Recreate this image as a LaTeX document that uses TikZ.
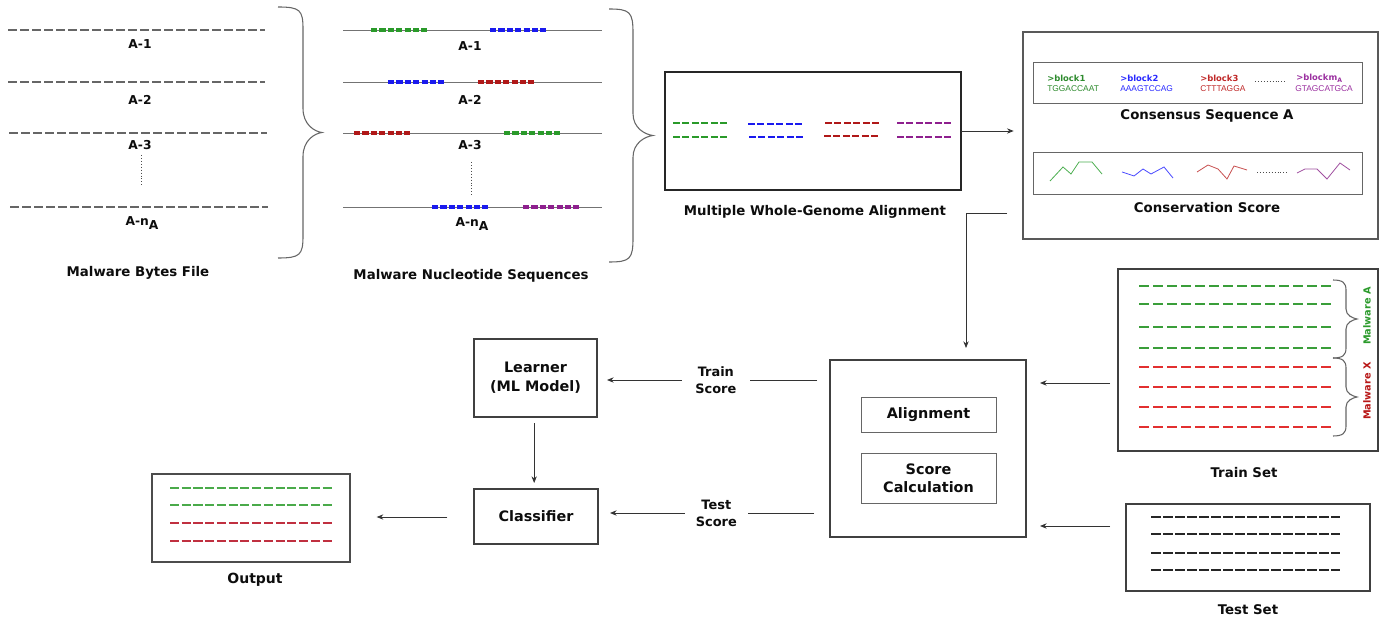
\documentclass[tikz,border=0pt]{standalone}
\usepackage{fontspec}
\setmainfont{DejaVu Sans}
\newfontfamily\seqfont{Liberation Sans}
\usetikzlibrary{arrows.meta}
\definecolor{cgrn}{HTML}{2A9A2A}
\definecolor{cblu}{HTML}{1A1AEE}
\definecolor{cred}{HTML}{B01818}
\definecolor{cpur}{HTML}{8E1F8E}
\definecolor{tgrn}{HTML}{3A9E3A}
\definecolor{tred}{HTML}{E23030}
\definecolor{ogrn}{HTML}{4AAA4A}
\definecolor{ored}{HTML}{C03040}
\definecolor{sgrn}{HTML}{2E8B2E}
\definecolor{sblu}{HTML}{2828FF}
\definecolor{sred}{HTML}{C02828}
\definecolor{spur}{HTML}{9B30A0}
\definecolor{lgrn}{HTML}{4CAF50}
\definecolor{lblu}{HTML}{4A4AFF}
\definecolor{lred}{HTML}{C85050}
\definecolor{lpur}{HTML}{A050A0}
\newcommand{\mybrace}[7]{% tipx, vx, px, ytop, ybot, rend, rmid
\draw[bracesty] (#1,#4) .. controls ({#2-3},#4) and (#2,{#4+3}) .. (#2,{#4+#6})
 -- (#2,{(#4+#5)/2-#7}) .. controls (#2,{(#4+#5)/2-#7/3}) and ({#3-(#3-#2)*0.4},{(#4+#5)/2-1}) .. (#3,{(#4+#5)/2})
 .. controls ({#3-(#3-#2)*0.4},{(#4+#5)/2+1}) and (#2,{(#4+#5)/2+#7/3}) .. (#2,{(#4+#5)/2+#7})
 -- (#2,{#5-#6}) .. controls (#2,{#5-3}) and ({#2-3},#5) .. (#1,#5);}
\begin{document}
\begin{tikzpicture}[x=0.75pt,y=-0.75pt,
  every node/.style={text=black!95},
  box/.style={draw=black!75, line width=1pt, inner sep=0pt, outer sep=0pt, fill=white},
  ibox/.style={draw=black!60, line width=0.7pt, inner sep=0pt, outer sep=0pt},
  arr/.style={draw=black!80, line width=0.6pt, -{Stealth[length=5pt,width=4pt]}},
  ttl/.style={font=\bfseries\fontsize{10}{12}\selectfont},
  lab/.style={font=\bfseries\fontsize{9.2}{11}\selectfont},
  blab/.style={font=\bfseries\fontsize{10.8}{14}\selectfont, align=center},
  sclab/.style={fill=white, font=\bfseries\fontsize{9.7}{12.75}\selectfont, align=center, inner xsep=10pt, inner ysep=1pt},
  blk/.style={font=\bfseries\fontsize{6.3}{7}\selectfont, anchor=west, inner sep=0pt},
  sq/.style={font=\seqfont\fontsize{6.3}{7}\selectfont, anchor=west, inner sep=0pt},
  gdash/.style={draw=black!60, line width=1.5pt, dash pattern=on 6.75pt off 2.25pt},
  seg/.style={line width=2.3pt, dash pattern=on 4.6pt off 1.7pt},
  aseg/.style={line width=1.8pt, dash pattern=on 5.2pt off 1.9pt},
  base/.style={draw=black!55, line width=0.6pt},
  bracesty/.style={draw=black!60, line width=0.8pt},
  dots/.style={draw=black!70, line width=0.7pt, dash pattern=on 0.6pt off 1.6pt},
  tline/.style={line width=1.1pt, dash pattern=on 7.5pt off 3pt},
  zig/.style={line width=0.6pt}]
\fill[white] (0,0) rectangle (1393,620);
\useasboundingbox (0,0) rectangle (1393,620);

% ---------- Malware Bytes File ----------
\draw[gdash] (8,30) -- (265,30);
\draw[gdash] (8,82) -- (265,82);
\draw[gdash] (9,133) -- (267,133);
\draw[gdash] (10,207) -- (268,207);
\node[lab] (b1) at (140,44) {A-1};
\node[lab] (b2) at (140,100) {A-2};
\node[lab] (b3) at (140,145) {A-3};
\node[lab] (bn) at (142,223) {A-n\raisebox{-2.5pt}{A}};
\draw[dots] (141,155) -- (141,186);
\mybrace{278}{303}{322}{7}{258}{22}{24}
\node[ttl] (bytes) at (138,273) {Malware Bytes File};

% ---------- Malware Nucleotide Sequences ----------
\draw[base] (343,30) -- (602,30);
\draw[base] (343,82) -- (602,82);
\draw[base] (343,133) -- (602,133);
\draw[base] (343,207) -- (602,207);
\draw[seg, cgrn] (371,30) -- (427,30);
\draw[seg, cblu] (490,30) -- (546,30);
\draw[seg, cblu] (388,82) -- (444,82);
\draw[seg, cred] (478,82) -- (534,82);
\draw[seg, cred] (354,133) -- (410,133);
\draw[seg, cgrn] (504,133) -- (560,133);
\draw[seg, cblu] (432,207) -- (488,207);
\draw[seg, cpur] (523,207) -- (579,207);
\node[lab] (n1) at (470,46) {A-1};
\node[lab] (n2) at (470,100) {A-2};
\node[lab] (n3) at (470,145) {A-3};
\node[lab] (nn) at (472,224) {A-n\raisebox{-2.5pt}{A}};
\draw[dots] (471,162) -- (471,195);
\mybrace{609}{633}{653}{9}{262}{24}{22}
\node[ttl] (nuc) at (471,276) {Malware Nucleotide Sequences};

% ---------- Multiple Whole-Genome Alignment ----------
\node[box, line width=1.3pt, draw=black!85, minimum width={296*0.75pt}, minimum height={118*0.75pt}] (mwga) at (813,131) {};
\draw[aseg, cgrn] (673,123) -- (729,123);
\draw[aseg, cgrn] (673,137) -- (729,137);
\draw[aseg, cblu] (748,124) -- (804,124);
\draw[aseg, cblu] (749,137) -- (805,137);
\draw[aseg, cred] (825,123) -- (881,123);
\draw[aseg, cred] (824,136) -- (880,136);
\draw[aseg, cpur] (897,123) -- (953,123);
\draw[aseg, cpur] (897,137) -- (953,137);
\node[ttl] (mwgat) at (815,212) {Multiple Whole-Genome Alignment};

% ---------- Consensus / Conservation ----------
\node[box, draw=black!65, minimum width={355*0.75pt}, minimum height={207*0.75pt}] (cons) at (1200.5,135.5) {};
\node[ibox, minimum width={329*0.75pt}, minimum height={41*0.75pt}] (csq) at (1197.5,82.5) {};
\node[ibox, minimum width={329*0.75pt}, minimum height={42*0.75pt}] (csc) at (1197.5,173) {};
\node[blk, text=sgrn] (k1) at (1047,78) {>block1};
\node[sq, text=sgrn] (s1) at (1047,88.5) {TGGACCAAT};
\node[blk, text=sblu] (k2) at (1120,78) {>block2};
\node[sq, text=sblu] (s2) at (1120,88.5) {AAAGTCCAG};
\node[blk, text=sred] (k3) at (1200,78) {>block3};
\node[sq, text=sred] (s3) at (1200,88.5) {CTTTAGGA};
\node[blk, text=spur] (k4) at (1296,78) {>blockm\raisebox{-1.3pt}{\fontsize{4.6}{5}\selectfont A}};
\node[sq, text=spur] (s4) at (1295,88.5) {GTAGCATGCA};
\draw[dots] (1255,81) -- (1286,81);
\node[ttl] (csqt) at (1207,116) {Consensus Sequence A};
\draw[zig, lgrn] (1050,181) -- (1063,167) -- (1071,174) -- (1079,162) -- (1092,162) -- (1102,174);
\draw[zig, lblu] (1122,172) -- (1134,176) -- (1143,169) -- (1151,174) -- (1164,167) -- (1173,178);
\draw[zig, lred] (1197,172) -- (1208,165) -- (1218,169) -- (1227,179) -- (1234,166) -- (1247,170);
\draw[dots] (1257,172) -- (1288,172);
\draw[zig, lpur] (1297,173) -- (1305,169) -- (1317,169) -- (1327,179) -- (1340,163) -- (1350,170);
\node[ttl] (csct) at (1207,208) {Conservation Score};

% ---------- Score calculation ----------
\node[box, minimum width={196*0.75pt}, minimum height={177*0.75pt}] (calc) at (928,448.5) {};
\node[ibox, blab, minimum width={135*0.75pt}, minimum height={35*0.75pt}] (alig) at (928.5,414.5) {Alignment};
\node[ibox, blab, font=\bfseries\fontsize{10.8}{13.5}\selectfont, minimum width={135*0.75pt}, minimum height={50*0.75pt}] (scor) at (928.5,478) {Score\\Calculation};

% ---------- Train set ----------
\node[box, minimum width={260*0.75pt}, minimum height={182*0.75pt}] (train) at (1248,360) {};
\foreach \yy in {286,304,327,348} \draw[tline, tgrn] (1139,\yy) -- (1332,\yy);
\foreach \yy in {367,387,407,427} \draw[tline, tred] (1139,\yy) -- (1332,\yy);
\mybrace{1333}{1346}{1357}{280}{358}{10}{10}
\mybrace{1333}{1346}{1357}{358}{436}{10}{10}
\node[font=\bfseries\fontsize{7.3}{8}\selectfont, text=cgrn, rotate=90] (mwa) at (1367,316) {Malware A};
\node[font=\bfseries\fontsize{7.3}{8}\selectfont, text=cred!90!red, rotate=90] (mwx) at (1367,391) {Malware X};
\node[ttl] (traint) at (1244,473) {Train Set};

% ---------- Test set ----------
\node[box, minimum width={244*0.75pt}, minimum height={87*0.75pt}] (test) at (1248,547.5) {};
\foreach \yy in {517,534,553,570} \draw[line width=1.1pt, black!85, dash pattern=on 7.6pt off 1.4pt] (1151,\yy) -- (1340,\yy);
\node[ttl] (testt) at (1248,610) {Test Set};

% ---------- Learner / Classifier / Output ----------
\node[box, blab, minimum width={123*0.75pt}, minimum height={78*0.75pt}] (learner) at (535.5,378) {Learner\\(ML Model)};
\node[box, blab, minimum width={124*0.75pt}, minimum height={55*0.75pt}] (clf) at (536,516.5) {Classifier};
\node[box, draw=black!70, minimum width={198*0.75pt}, minimum height={88*0.75pt}] (out) at (251,518) {};
\draw[line width=1pt, ogrn, dash pattern=on 6.8pt off 2pt] (170,488) -- (334,488);
\draw[line width=1pt, ogrn, dash pattern=on 6.8pt off 2pt] (170,505) -- (334,505);
\draw[line width=1pt, ored, dash pattern=on 6.8pt off 2pt] (170,523) -- (334,523);
\draw[line width=1pt, ored, dash pattern=on 6.8pt off 2pt] (170,541) -- (334,541);
\node[ttl, font=\bfseries\fontsize{10.5}{12}\selectfont] (outt) at (255,580) {Output};

% ---------- Connectors ----------
\draw[arr, shorten >=7pt] (mwga.east) -- (mwga.east -| cons.west);
\coordinate (c1) at (1007,213);
\coordinate (c2) at (966,348);
\draw[arr] (c1) -| (c2);
\coordinate (t1) at (1118,383);
\coordinate (t2) at (1126,526);
\draw[arr, shorten <=6pt, shorten >=10.5pt] (t1) -- (calc.east |- t1);
\draw[arr, shorten <=12pt, shorten >=10.5pt] (t2) -- (calc.east |- t2);
\coordinate (t3) at (830,380);
\coordinate (t4) at (830,513);
\draw[arr, shorten <=9.75pt, shorten >=7.5pt] (t3) -- node[sclab, pos=0.49] (trs) {Train\\Score} (learner.east |- t3);
\draw[arr, shorten <=12pt, shorten >=9pt] (t4) -- node[sclab, inner xsep=8pt, pos=0.49] (tes) {Test\\Score} (clf.east |- t4);
\draw[arr, shorten <=4.5pt, shorten >=4.5pt] ([xshift=-1pt]learner.south) -- ([xshift=-1pt]learner.south |- clf.north);
\draw[arr, shorten <=20pt, shorten >=20pt] (clf.west |- 0,517) -- (out.east |- 0,517);
\end{tikzpicture}
\end{document}
